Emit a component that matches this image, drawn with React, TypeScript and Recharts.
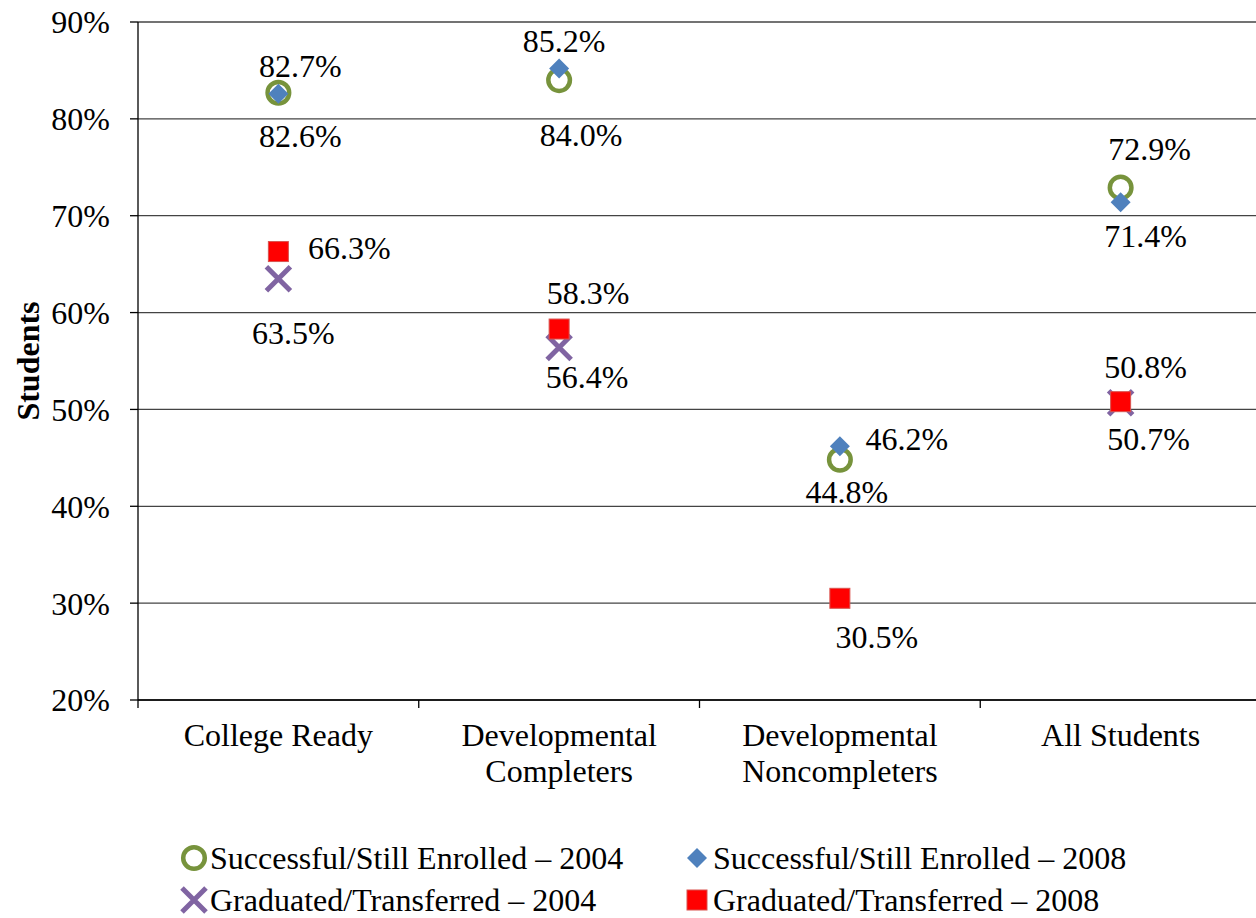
import {
  CartesianGrid,
  ComposedChart,
  LabelList,
  Line,
  XAxis,
  YAxis,
} from "recharts";

const categories = [
  "College Ready",
  "Developmental Completers",
  "Developmental Noncompleters",
  "All Students",
];
const categoryLines = [
  ["College Ready"],
  ["Developmental", "Completers"],
  ["Developmental", "Noncompleters"],
  ["All Students"],
];
const yTicks = [20, 30, 40, 50, 60, 70, 80, 90];

const successful2004 = [82.7, 84.0, 44.8, 72.9];
const successful2008 = [82.6, 85.2, 46.2, 71.4];
const graduated2004 = [63.5, 56.4, null, 50.7];
const graduated2008 = [66.3, 58.3, 30.5, 50.8];

const seriesNames = {
  s2004: "Successful/Still Enrolled \u2013 2004",
  s2008: "Successful/Still Enrolled \u2013 2008",
  g2004: "Graduated/Transferred \u2013 2004",
  g2008: "Graduated/Transferred \u2013 2008",
};

// where each data label sits relative to its marker (dx, dy)
const labelOffsets: Record<string, (number[] | null)[]> = {
  s2004: [[22, -27], [22, 55], [7, 32], [29, -39]],
  s2008: [[22, 42], [5, -27], [67, -7], [25, 34]],
  g2004: [[15, 54], [28, 30], null, [28, 36]],
  g2008: [[71, -4], [29, -36], [37, 39], [25, -35]],
};

const data = categories.map((name, i) => ({
  name,
  s2004: successful2004[i],
  s2008: successful2008[i],
  g2004: graduated2004[i],
  g2008: graduated2008[i],
}));

const FONT = '"Liberation Serif", "Times New Roman", serif';
const FS = 32;
const GREEN = "#77933C";
const BLUE = "#4F81BD";
const PURPLE = "#8064A2";
const RED = "#FF0000";

const PLOT_LEFT = 138;
const PLOT_RIGHT = 1261;
const BAND = (PLOT_RIGHT - PLOT_LEFT) / categories.length;

const Circle = ({ cx, cy }: { cx: number; cy: number }) => (
  <circle cx={cx} cy={cy} r={10.8} fill="#fff" stroke={GREEN} strokeWidth={4.5} />
);
const Diamond = ({ cx, cy }: { cx: number; cy: number }) => (
  <path
    d={`M${cx},${cy - 10} L${cx + 10},${cy} L${cx},${cy + 10} L${cx - 10},${cy} Z`}
    fill={BLUE}
  />
);
const Cross = ({ cx, cy }: { cx: number; cy: number }) => (
  <path
    d={`M${cx - 12},${cy - 12} L${cx + 12},${cy + 12} M${cx + 12},${cy - 12} L${cx - 12},${cy + 12}`}
    stroke={PURPLE}
    strokeWidth={5}
  />
);
const Square = ({ cx, cy }: { cx: number; cy: number }) => (
  <rect x={cx - 10} y={cy - 10} width={20} height={20} fill={RED} stroke="#D9534F" strokeWidth={1} />
);

const shapes: Record<string, any> = {
  s2004: Circle,
  s2008: Diamond,
  g2004: Cross,
  g2008: Square,
};

const makeDot = (key: string) => (props: any) => {
  const { cx, cy, value, index } = props;
  const Shape = shapes[key];
  if (value == null || cy == null || isNaN(cy)) return <g key={`${key}-${index}`} />;
  return (
    <g key={`${key}-${index}`}>
      <Shape cx={cx} cy={cy} />
    </g>
  );
};

const makeLabel = (key: string) => (props: any) => {
  const { x, y, value, index } = props;
  const off = labelOffsets[key][index];
  if (value == null || !off) return null;
  return (
    <text
      x={x + off[0]}
      y={y + off[1]}
      textAnchor="middle"
      dominantBaseline="central"
      fontFamily={FONT}
      fontSize={FS}
      fill="#000"
    >
      {`${Number(value).toFixed(1)}%`}
    </text>
  );
};

const CategoryTick = (props: any) => {
  const { x, y, payload } = props;
  const i = payload.index;
  const lines = categoryLines[i];
  return (
    <g>
      <line x1={x - BAND / 2} x2={x - BAND / 2} y1={y} y2={y + 8} stroke="#000" strokeWidth={1.3} />
      {i === categories.length - 1 && (
        <line x1={x + BAND / 2} x2={x + BAND / 2} y1={y} y2={y + 8} stroke="#000" strokeWidth={1.3} />
      )}
      <text textAnchor="middle" fontFamily={FONT} fontSize={FS} fill="#000">
        {lines.map((l, k) => (
          <tspan key={k} x={x} y={y + 46 + k * 36}>
            {l}
          </tspan>
        ))}
      </text>
    </g>
  );
};

const LegendMarker = ({ k }: { k: string }) => {
  const Shape = shapes[k];
  return (
    <svg width={28} height={28} style={{ display: "block" }}>
      <Shape cx={14} cy={14} />
    </svg>
  );
};

const legendItems = [
  { k: "s2004", left: 180, top: 858 },
  { k: "s2008", left: 683, top: 858 },
  { k: "g2004", left: 180, top: 900 },
  { k: "g2008", left: 683, top: 900 },
];

export default function App() {
  return (
    <div
      style={{
        position: "absolute",
        left: 0,
        top: 0,
        width: 1256,
        height: 918,
        background: "#fff",
        overflow: "hidden",
      }}
    >
      <ComposedChart
        width={1256}
        height={918}
        data={data}
        margin={{ top: 22, right: -5, left: 0, bottom: 118 }}
      >
        <CartesianGrid vertical={false} stroke="#444" strokeWidth={1.3} />
        <XAxis
          dataKey="name"
          type="category"
          scale="band"
          height={100}
          tickLine={false}
          tickSize={0}
          tickMargin={0}
          axisLine={{ stroke: "#000", strokeWidth: 1.3 }}
          tick={<CategoryTick />}
          interval={0}
        />
        <YAxis
          width={138}
          domain={[20, 90]}
          ticks={yTicks}
          tickFormatter={(v) => `${v}%`}
          tickSize={8}
          tickMargin={20}
          axisLine={{ stroke: "#000", strokeWidth: 1.3 }}
          tickLine={{ stroke: "#000", strokeWidth: 1.3 }}
          tick={{ fontFamily: FONT, fontSize: FS, fill: "#000" }}
          label={{
            content: (p: any) => {
              const vb = p.viewBox;
              const cy = vb.y + vb.height / 2;
              return (
                <text
                  x={28}
                  y={cy}
                  transform={`rotate(-90, 28, ${cy})`}
                  textAnchor="middle"
                  dominantBaseline="central"
                  fontFamily={FONT}
                  fontSize={FS}
                  fontWeight="bold"
                  fill="#000"
                >
                  Students
                </text>
              );
            },
          }}
        />
        {(["s2004", "s2008", "g2004", "g2008"] as const).map((k) => (
          <Line
            key={k}
            dataKey={k}
            name={seriesNames[k]}
            stroke="none"
            strokeWidth={0}
            dot={makeDot(k)}
            activeDot={false}
            isAnimationActive={false}
          >
            <LabelList dataKey={k} content={makeLabel(k)} />
          </Line>
        ))}
      </ComposedChart>
      {legendItems.map((it) => (
        <div
          key={it.k}
          style={{
            position: "absolute",
            left: it.left,
            top: it.top - 20,
            height: 40,
            display: "flex",
            alignItems: "center",
            fontFamily: FONT,
            fontSize: FS,
            whiteSpace: "nowrap",
            color: "#000",
          }}
        >
          <LegendMarker k={it.k} />
          <span style={{ marginLeft: 2 }}>{seriesNames[it.k as keyof typeof seriesNames]}</span>
        </div>
      ))}
    </div>
  );
}
